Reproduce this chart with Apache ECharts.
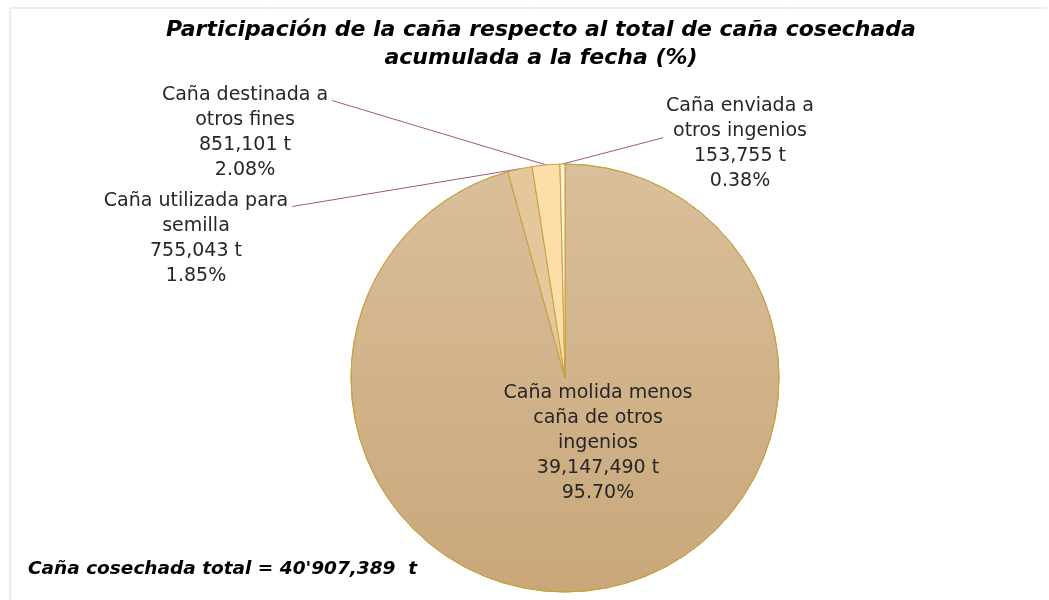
<!DOCTYPE html>
<html>
<head>
<meta charset="utf-8">
<script src="https://cdn.jsdelivr.net/npm/echarts@6/dist/echarts.min.js"></script>
<style>
  html, body { margin: 0; padding: 0; background: #fff; }
  #main { width: 1049px; height: 600px; }
</style>
</head>
<body>
<div id="main"></div>
<script>
// datos
var categorias = [
  'Caña molida menos\ncaña de otros\ningenios',
  'Caña utilizada para\nsemilla',
  'Caña destinada a\notros fines',
  'Caña enviada a\notros ingenios'
];
var toneladas = [39147490, 755043, 851101, 153755];
var porcentajes = [95.70, 1.85, 2.08, 0.38];
var totalCosechada = "40'907,389";

var titulo = 'Participación de la caña respecto al total de caña cosechada\nacumulada a la fecha (%)';

// estilos
var colores = [
  new echarts.graphic.LinearGradient(0, 0, 0, 1, [
    { offset: 0, color: '#D9BF9B' },
    { offset: 1, color: '#C9A77A' }
  ]),
  '#E4C79B',
  '#FDDEA9',
  '#FFF1DA'
];
var centro = [565, 378];
var lineH = 25;
// centro de cada bloque de etiqueta
var posEtiquetas = [[598, 443], [196, 239], [245, 133], [740, 144]];

function miles(n) {
  return n.toString().replace(/\B(?=(\d{3})+(?!\d))/g, ',');
}

var chart = echarts.init(document.getElementById('main'));

var datos = categorias.map(function (c, i) {
  var item = {
    name: c,
    value: toneladas[i],
    pct: porcentajes[i],
    itemStyle: { color: colores[i] }
  };
  if (i === 0) {
    item.label = { position: 'inside' };
    item.labelLine = { show: false };
  }
  return item;
});

var option = {
  backgroundColor: '#fff',
  title: [
    {
      text: titulo,
      left: 536,
      top: 11,
      textAlign: 'center',
      textStyle: {
        fontFamily: 'DejaVu Sans',
        fontSize: 22,
        fontWeight: 'bold',
        fontStyle: 'italic',
        color: '#000',
        lineHeight: 28
      }
    },
    {
      text: 'Caña cosechada total = ' + totalCosechada + '  t',
      left: 23,
      top: 555,
      textStyle: {
        fontFamily: 'DejaVu Sans',
        fontSize: 18.5,
        fontWeight: 'bold',
        fontStyle: 'italic',
        color: '#000'
      }
    }
  ],
  graphic: [
    { type: 'line', shape: { x1: 10, y1: 8, x2: 1047, y2: 8 }, style: { stroke: '#D9D9D9', lineWidth: 1 } },
    { type: 'line', shape: { x1: 10, y1: 8, x2: 10, y2: 600 }, style: { stroke: '#D9D9D9', lineWidth: 1 } }
  ],
  series: [
    {
      type: 'pie',
      center: centro,
      radius: 214,
      startAngle: 90,
      clockwise: true,
      avoidLabelOverlap: false,
      silent: true,
      itemStyle: { borderColor: '#C9A03C', borderWidth: 1 },
      label: {
        show: true,
        position: 'outside',
        fontFamily: 'DejaVu Sans',
        fontSize: 19,
        lineHeight: lineH,
        color: '#262626',
        align: 'center',
        formatter: function (p) {
          return p.name + '\n' + miles(p.value) + ' t\n' + p.data.pct.toFixed(2) + '%';
        }
      },
      labelLine: {
        show: true,
        lineStyle: { color: '#A0587A', width: 1 }
      },
      labelLayout: function (params) {
        var i = params.dataIndex;
        var p = posEtiquetas[i];
        var r = params.labelRect;
        var out = { x: p[0], y: p[1], align: 'center', verticalAlign: 'middle' };
        if (i > 0 && params.labelLinePoints) {
          var top = p[1] - r.height / 2;
          var fin;
          if (p[0] < centro[0]) {
            fin = [p[0] + r.width / 2 + 4, top + lineH * 0.7];
          } else {
            fin = [p[0] - r.width / 2 - 3, top + lineH * 1.75];
          }
          out.labelLinePoints = [params.labelLinePoints[0], fin, fin];
        }
        return out;
      },
      data: datos
    }
  ]
};

chart.setOption(option);
</script>
</body>
</html>
